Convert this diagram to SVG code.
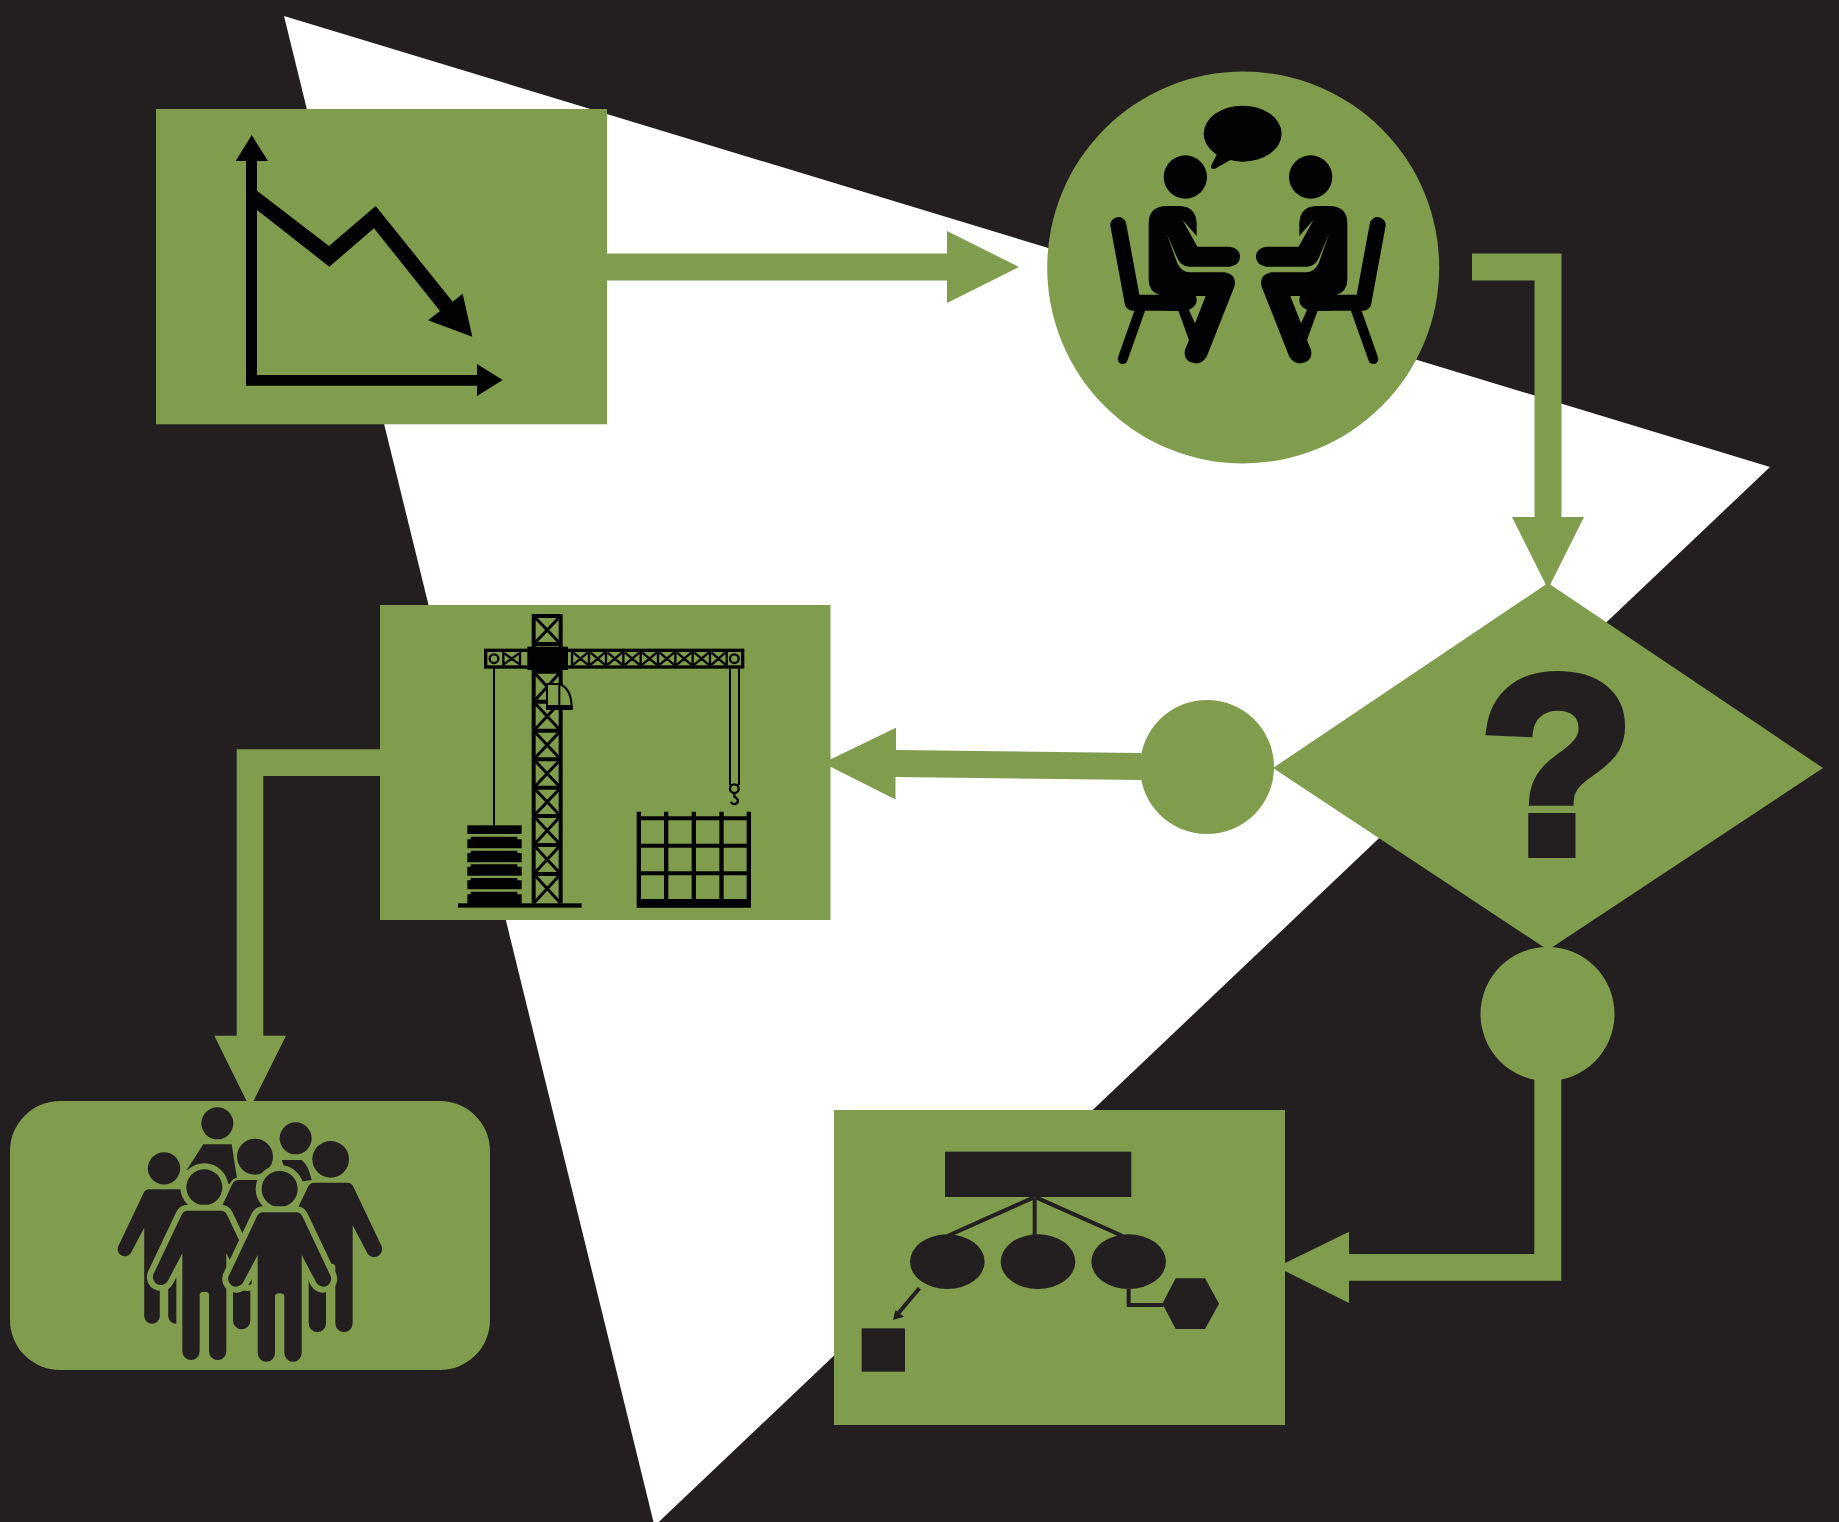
<svg xmlns="http://www.w3.org/2000/svg" width="1839" height="1522" viewBox="0 0 1839 1522">
<style>
.g{fill:#809c4d}
.k{fill:#020202}
.d{fill:#231f20}
.ln{fill:none;stroke:#231f20;stroke-width:12}
.kl{fill:none;stroke:#020202;stroke-linecap:round;stroke-linejoin:round}
.cr{fill:none;stroke:#020202}
.p{fill:#231f20;stroke:#809c4d;paint-order:stroke}
</style>
<defs>
<path id="person" d="M-50,70H50Q62,70 68,82L150,255A22,22 0 0 1 111,283L66,198V492A26,26 0 0 1 14,492V322Q14,313 0,313Q-14,313 -14,322V492A26,26 0 0 1 -66,492V198L-111,283A22,22 0 0 1 -150,255L-68,82Q-62,70 -50,70Z"/>
<g id="sitter">
<path class="kl" stroke-width="48" d="M235,495L278,728H450"/>
<path class="kl" stroke-width="30" d="M300,750L248,897"/>
<path class="k" d="M326,490Q326,438 382,438H420Q468,440 470,490V528L428,480L472,560H570Q600,565 600,590Q600,615 570,620H445Q422,618 412,595L380,520L412,610Q425,637 450,637H555Q592,645 583,680L500,890Q485,912 465,910Q428,905 435,870L447,840L415,752H380V705H360Q326,695 326,660Z"/>
<path class="g" d="M468,708H497L465,790L447,750Q478,735 468,708Z"/>
</g>
</defs>
<rect class="d" width="1839" height="1522"/>
<polygon points="284,16 1770,467 654.500,1526" fill="#fff"/>
<g id="connectors">
<polygon class="g" points="607,253.500 947,253.500 947,231 1019,267 947,303 947,280.500 607,280.500"/>
<polygon class="g" points="1472,253.500 1561.500,253.500 1561.500,517 1584,517 1548,589 1512,517 1534.500,517 1534.500,280.500 1472,280.500"/>
<polygon class="g" points="1141,753 1141,780 895.500,777 895.500,799.500 823,763 896,727.700 896,750"/>
<polygon class="g" points="380,749.300 236.700,749.300 236.700,1035.700 214.300,1035.700 250,1108 286,1035.700 263.300,1035.700 263.300,776 380,776"/>
<polygon class="g" points="1534.300,1075 1561.300,1075 1561.300,1280.700 1349,1280.700 1349,1303 1277,1267 1349,1231.700 1349,1254 1534.300,1254"/>
</g>
<g id="decline">
<rect class="g" x="156" y="109" width="451" height="315.300"/>
<path class="k" d="M251.700,135L268,161H257V375H477V364L502.700,380L477,396V385.700H246V161H235.700Z"/>
<polygon class="k" points="257,190.700 329,246 375.700,206 452.700,301.700 462.700,293.700 472.300,336.700 428,320.300 440,311 374,228.300 329.300,266.700 257,210"/>
</g>
<g id="meeting">
<circle class="g" cx="1243.200" cy="267.500" r="196"/>
<g transform="translate(1040,60) scale(.33333)">
<ellipse class="k" cx="608" cy="221" rx="117" ry="84"/>
<path class="k" d="M532,280L513,318Q513,330 525,326L575,298Z"/>
<circle class="k" cx="436" cy="351" r="65"/>
<circle class="k" cx="812" cy="351" r="65"/>
<use href="#sitter"/>
<use href="#sitter" transform="translate(1248,0) scale(-1,1)"/>
</g>
</g>
<g id="decision">
<polygon class="g" points="1548,583 1823,768 1548,950 1273,768"/>
<text x="1557" y="852" text-anchor="middle" font-family="'Liberation Sans',Arial,sans-serif" font-weight="700" font-size="250" class="d" stroke="#231f20" stroke-width="12">?</text>
</g>
<circle id="junction-a" class="g" cx="1207" cy="767" r="67"/>
<circle id="junction-b" class="g" cx="1547.500" cy="1014" r="67"/>
<g id="construction">
<rect class="g" x="380" y="605" width="450.500" height="315"/>
<g transform="translate(440,600) scale(.33333)">
<rect class="k" x="54" y="910" width="371" height="13"/>
<rect class="k" x="82" y="676" width="163" height="26"/>
<path class="k" d="M92,710H232V718H245V745H82V718H92ZM92,752H232V759H245V787H82V759H92ZM92,793H232V800H245V827H82V800H92ZM92,834H232V841H245V868H82V841H92ZM92,875H232V883H245V912H82V883H92Z"/>
<rect class="k" x="159" y="200" width="6" height="476"/>
<path class="cr" d="M870,206V555M897,206V555" stroke-width="6"/>
<circle class="cr" cx="883" cy="566" r="13" stroke-width="7"/>
<path class="cr" d="M883,580V590Q898,598 892,608Q882,618 872,606" stroke-width="7"/>
<path class="cr" stroke-width="12" d="M281,42V910M362,42V910M275,48H368M275,132H368M275,215H368M275,305H368M275,392H368M275,478H368M275,563H368M275,648H368M275,735H368M275,822H368"/>
<path class="cr" stroke-width="9" d="M281,48L362,132M362,48L281,132M281,215L362,305M362,215L281,305M281,305L362,392M362,305L281,392M281,392L362,478M362,392L281,478M281,478L362,563M362,478L281,563M281,563L362,648M362,563L281,648M281,648L362,735M362,648L281,735M281,735L362,822M362,735L281,822M281,822L362,910M362,822L281,910"/>
<rect class="cr" stroke-width="10" x="137" y="151" width="771" height="50"/>
<path class="cr" stroke-width="7" d="M190,150V202M240,150V202M396,150V202M447,150V202M498,150V202M550,150V202M602,150V202M654,150V202M706,150V202M758,150V202M810,150V202M860,150V202M190,158L240,194M240,158L190,194M400,158L443,194M443,158L400,194M452,158L494,194M494,158L452,194M503,158L546,194M546,158L503,194M555,158L598,194M598,158L555,194M607,158L650,194M650,158L607,194M659,158L702,194M702,158L659,194M711,158L754,194M754,158L711,194M763,158L806,194M806,158L763,194M815,158L856,194M856,158L815,194"/>
<circle class="cr" cx="162" cy="176" r="13" stroke-width="7"/>
<circle class="cr" cx="883" cy="176" r="13" stroke-width="7"/>
<rect class="k" x="262" y="140" width="122" height="70"/>
<path class="g" stroke="#020202" stroke-width="6" d="M321,252H358Q395,265 395,325H321Z"/>
<path fill="none" stroke="#020202" stroke-width="6" d="M358,252V325"/>
<rect class="k" x="318" y="315" width="80" height="15"/>
<path class="k" d="M590,635H603V649H672V635H685V649H755V635H768V649H838V635H851V649H920V635H933V923H590ZM603,661V731H672V661ZM685,661V731H755V661ZM768,661V731H838V661ZM851,661V731H920V661ZM603,743V814H672V743ZM685,743V814H755V743ZM768,743V814H838V743ZM851,743V814H920V743ZM603,826V897H672V826ZM685,826V897H755V826ZM768,826V897H838V826ZM851,826V897H920V826Z" fill-rule="evenodd"/>
</g>
</g>
<g id="team">
<rect class="g" x="10" y="1101" width="480" height="269" rx="50"/>
<g transform="translate(90,1090) scale(.33333)">
<circle class="d" cx="382" cy="100" r="48"/>
<circle class="d" cx="617" cy="145" r="48"/>
<path class="d" d="M340,163H425L445,290L290,240Z"/>
<path class="d" d="M575,210H635Q655,225 665,270L600,280Z"/>
<g class="p" stroke-width="14">
<g transform="translate(222,235) scale(.9)"><circle r="54"/><use href="#person"/></g>
<g transform="translate(722,208)"><circle r="55"/><use href="#person"/></g>
<g transform="translate(495,200)"><circle r="54"/><use href="#person"/></g>
</g>
<g class="p" stroke-width="36">
<g transform="translate(343,292)"><circle r="54"/><use href="#person"/></g>
<g transform="translate(569,297)"><circle r="54"/><use href="#person"/></g>
</g>
</g>
</g>
<g id="org">
<rect class="g" x="834" y="1110" width="451" height="315"/>
<g transform="translate(830,1110) scale(.33333)">
<rect class="d" x="345" y="125" width="559" height="136"/>
<path class="ln" d="M612,262L352,378M614,262V378M618,262L878,378"/>
<ellipse class="d" cx="352" cy="455" rx="112" ry="82"/>
<ellipse class="d" cx="624" cy="455" rx="112" ry="82"/>
<ellipse class="d" cx="896" cy="455" rx="112" ry="82"/>
<path class="ln" d="M268,535L205,610M896,537V585H1000"/>
<polygon class="d" points="189,630 196,600 222,620"/>
<rect class="d" x="95" y="655" width="130" height="130"/>
<polygon class="d" points="1167,581 1125,505 1037,505 997,581 1037,657 1125,657"/>
</g>
</g>
</svg>
